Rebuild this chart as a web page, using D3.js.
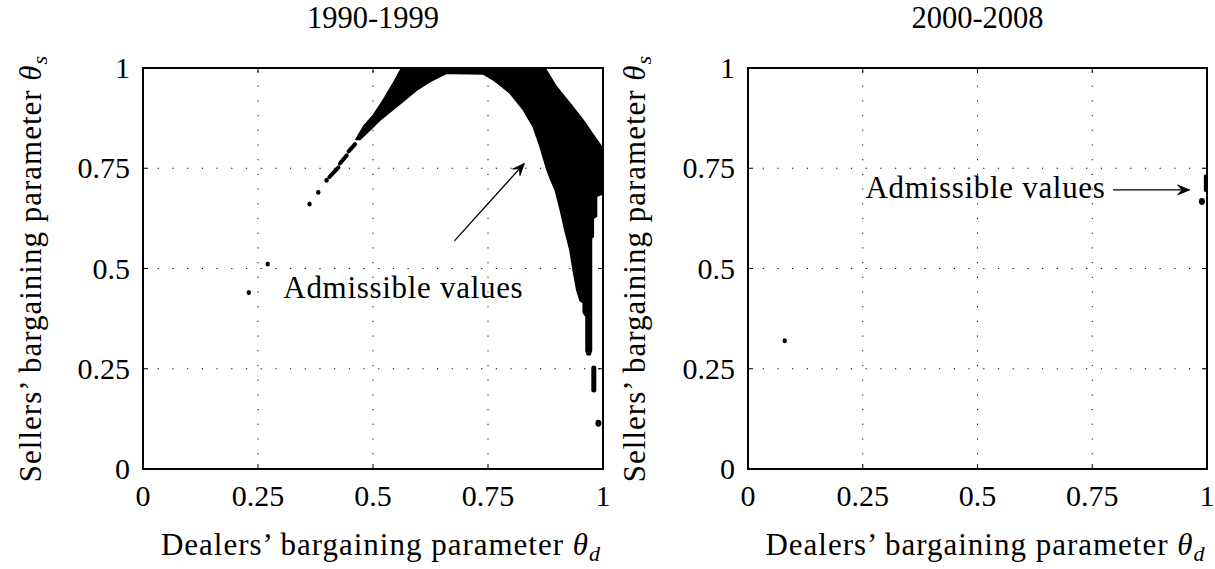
<!DOCTYPE html>
<html>
<head>
<meta charset="utf-8">
<script src="https://cdn.jsdelivr.net/npm/d3@7"></script>
<style>
  html, body { margin: 0; padding: 0; background: #fff; }
  svg { display: block; }
</style>
</head>
<body>
<svg id="chart" width="1215" height="569"></svg>
<script>
// ---------- data ----------
const tickValues = [0, 0.25, 0.5, 0.75, 1];
const tickLabels = ["0", "0.25", "0.5", "0.75", "1"];
const panelTitles = ["1990-1999", "2000-2008"];
const annotationText = "Admissible values";

// 1990-1999: boundary of the main admissible region (theta_d, theta_s)
const regionThetaD = [0.463,0.479,0.501,0.522,0.544,0.562,0.874,0.899,0.928,0.957,0.979,0.997,1.0,
  1.0,0.986,0.986,0.979,0.979,0.975,0.975,0.972,0.966,0.963,
  0.963,0.957,0.957,0.950,0.943,0.935,0.928,0.917,0.907,0.896,0.886,0.878,0.863,0.848,0.827,0.798,
  0.762,0.740,0.675,0.660,0.624,0.595,0.552,0.515,0.493,0.472];
const regionThetaS = [0.822,0.854,0.883,0.920,0.962,1.0,1.0,0.953,0.912,0.870,0.833,0.804,0.800,
  0.686,0.680,0.630,0.625,0.580,0.575,0.295,0.285,0.285,0.295,
  0.380,0.390,0.414,0.420,0.446,0.496,0.546,0.596,0.646,0.696,0.722,0.746,0.804,0.854,0.895,0.937,
  0.970,0.985,0.986,0.987,0.966,0.945,0.904,0.870,0.845,0.822];
// 1990-1999: isolated admissible dots
const dots90D = [0.230, 0.271, 0.362, 0.381, 0.399, 0.990];
const dots90S = [0.440, 0.511, 0.661, 0.690, 0.720, 0.114];
const dots90R = [2.2, 2.2, 2.2, 2.2, 2.2, 3];
// 1990-1999: short admissible segments (start/end)
const segs90D0 = [0.405, 0.428, 0.447, 0.980];
const segs90S0 = [0.728, 0.762, 0.792, 0.252];
const segs90D1 = [0.425, 0.443, 0.461, 0.980];
const segs90S1 = [0.752, 0.782, 0.810, 0.197];
const segs90W  = [4, 4, 4, 5];
// 2000-2008 admissible points / segments
const dots00D = [0.080, 0.989];
const dots00S = [0.320, 0.667];
const dots00R = [2.2, 3];
const segs00D0 = [0.997]; const segs00S0 = [0.730];
const segs00D1 = [0.997]; const segs00S1 = [0.695];
const segs00W  = [3.5];
// annotations: text anchor and arrow (tail -> head)
const annot90 = {tx: 0.305, ty: 0.426, x0: 0.677, y0: 0.569, x1: 0.829, y1: 0.762};
const annot00 = {tx: 0.256, ty: 0.677, x0: 0.795, y0: 0.696, x1: 0.962, y1: 0.696};

// ---------- layout ----------
const FONT = "'Liberation Serif', 'DejaVu Serif', serif";
const svg = d3.select("#chart");
const panels = [
  {left: 143, right: 603, top: 68, bottom: 469, title: panelTitles[0], ylabX: 41,
   region: true, dD: dots90D, dS: dots90S, dR: dots90R,
   s: {d0: segs90D0, s0: segs90S0, d1: segs90D1, s1: segs90S1, w: segs90W}, ann: annot90},
  {left: 748, right: 1207, top: 68, bottom: 469, title: panelTitles[1], ylabX: 645,
   region: false, dD: dots00D, dS: dots00S, dR: dots00R,
   s: {d0: segs00D0, s0: segs00S0, d1: segs00D1, s1: segs00S1, w: segs00W}, ann: annot00}
];

function arrowHead(g, x0, y0, x1, y1) {
  const ang = Math.atan2(y1 - y0, x1 - x0);
  const L = 12, W = 5, N = 7.5;
  const pts = [
    [x1, y1],
    [x1 - L * Math.cos(ang) + W * Math.sin(ang), y1 - L * Math.sin(ang) - W * Math.cos(ang)],
    [x1 - N * Math.cos(ang), y1 - N * Math.sin(ang)],
    [x1 - L * Math.cos(ang) - W * Math.sin(ang), y1 - L * Math.sin(ang) + W * Math.cos(ang)]
  ];
  g.append("path").attr("d", "M" + pts.map(p => p.join(",")).join("L") + "Z")
    .attr("fill", "#000").attr("stroke", "#000").attr("stroke-width", 0.8);
}

function txt(g) {
  return g.append("text").attr("font-family", FONT).attr("fill", "#000");
}

panels.forEach(p => {
  const x = d3.scaleLinear().domain([0, 1]).range([p.left, p.right]);
  const y = d3.scaleLinear().domain([0, 1]).range([p.bottom, p.top]);
  const g = svg.append("g");

  // grid (dotted)
  const gridVals = tickValues.filter(v => v > 0 && v < 1);
  g.selectAll(".gx").data(gridVals).enter().append("line")
    .attr("x1", d => x(d)).attr("x2", d => x(d)).attr("y1", y(0)).attr("y2", y(1))
    .attr("stroke", "#000").attr("stroke-width", 1).attr("stroke-dasharray", "1.2,13.5");
  g.selectAll(".gy").data(gridVals).enter().append("line")
    .attr("y1", d => y(d)).attr("y2", d => y(d)).attr("x1", x(0)).attr("x2", x(1))
    .attr("stroke", "#000").attr("stroke-width", 1).attr("stroke-dasharray", "1.2,13.5");

  // clip
  const cid = "clip" + p.left;
  svg.append("clipPath").attr("id", cid).append("rect")
    .attr("x", p.left).attr("y", p.top).attr("width", p.right - p.left).attr("height", p.bottom - p.top);
  const data = g.append("g").attr("clip-path", `url(#${cid})`);

  if (p.region) {
    const pts = regionThetaD.map((d, i) => [d, regionThetaS[i]]);
    data.append("path")
      .attr("d", d3.line().x(d => x(d[0])).y(d => y(d[1]))(pts) + "Z")
      .attr("fill", "#000").attr("stroke", "#000").attr("stroke-width", 1.5).attr("stroke-linejoin", "round");
  }
  p.s.d0.forEach((d, i) => {
    data.append("line")
      .attr("x1", x(d)).attr("y1", y(p.s.s0[i])).attr("x2", x(p.s.d1[i])).attr("y2", y(p.s.s1[i]))
      .attr("stroke", "#000").attr("stroke-width", p.s.w[i]).attr("stroke-linecap", "round");
  });
  p.dD.forEach((d, i) => {
    data.append("ellipse").attr("cx", x(d)).attr("cy", y(p.dS[i]))
      .attr("rx", p.dR[i]).attr("ry", p.dR[i] * 1.15).attr("fill", "#000");
  });

  // axes ticks (inward, all four sides)
  const tl = 5;
  tickValues.forEach(v => {
    g.append("line").attr("x1", x(v)).attr("x2", x(v)).attr("y1", y(0)).attr("y2", y(0) - tl).attr("stroke", "#000");
    g.append("line").attr("x1", x(v)).attr("x2", x(v)).attr("y1", y(1)).attr("y2", y(1) + tl).attr("stroke", "#000");
    g.append("line").attr("y1", y(v)).attr("y2", y(v)).attr("x1", x(0)).attr("x2", x(0) + tl).attr("stroke", "#000");
    g.append("line").attr("y1", y(v)).attr("y2", y(v)).attr("x1", x(1)).attr("x2", x(1) - tl).attr("stroke", "#000");
  });

  // box
  g.append("rect").attr("x", p.left).attr("y", p.top)
    .attr("width", p.right - p.left).attr("height", p.bottom - p.top)
    .attr("fill", "none").attr("stroke", "#000").attr("stroke-width", 2);

  // tick labels
  tickValues.forEach((v, i) => {
    txt(g).attr("x", x(v)).attr("y", 506).attr("text-anchor", "middle")
      .attr("font-size", 30).text(tickLabels[i]);
    txt(g).attr("x", p.left - 13).attr("y", y(v) + 10).attr("text-anchor", "end")
      .attr("font-size", 30).text(tickLabels[i]);
  });

  // title
  txt(g).attr("x", (p.left + p.right) / 2).attr("y", 28)
    .attr("text-anchor", "middle").attr("font-size", 30.5).text(p.title);

  // x label
  const xl = txt(g).attr("x", (p.left + p.right) / 2 + 8).attr("y", 555)
    .attr("text-anchor", "middle").attr("font-size", 31).attr("letter-spacing", 1);
  xl.append("tspan").text("Dealers\u2019 bargaining parameter ");
  xl.append("tspan").attr("font-style", "italic").text("\u03B8");
  xl.append("tspan").attr("font-style", "italic").attr("font-size", 22).attr("dy", 6).text("d");

  // y label
  const yl = txt(g)
    .attr("transform", `translate(${p.ylabX},${(p.top + p.bottom) / 2}) rotate(-90)`)
    .attr("text-anchor", "middle").attr("font-size", 31).attr("letter-spacing", 1);
  yl.append("tspan").text("Sellers\u2019 bargaining parameter ");
  yl.append("tspan").attr("font-style", "italic").text("\u03B8");
  yl.append("tspan").attr("font-style", "italic").attr("font-size", 22).attr("dy", 6).text("s");

  // annotation
  const a = p.ann;
  txt(g).attr("x", x(a.tx)).attr("y", y(a.ty)).attr("font-size", 31)
    .attr("letter-spacing", 0.7).text(annotationText);
  g.append("line").attr("x1", x(a.x0)).attr("y1", y(a.y0)).attr("x2", x(a.x1)).attr("y2", y(a.y1))
    .attr("stroke", "#000").attr("stroke-width", 1.3);
  arrowHead(g, x(a.x0), y(a.y0), x(a.x1), y(a.y1));
});
</script>
</body>
</html>
